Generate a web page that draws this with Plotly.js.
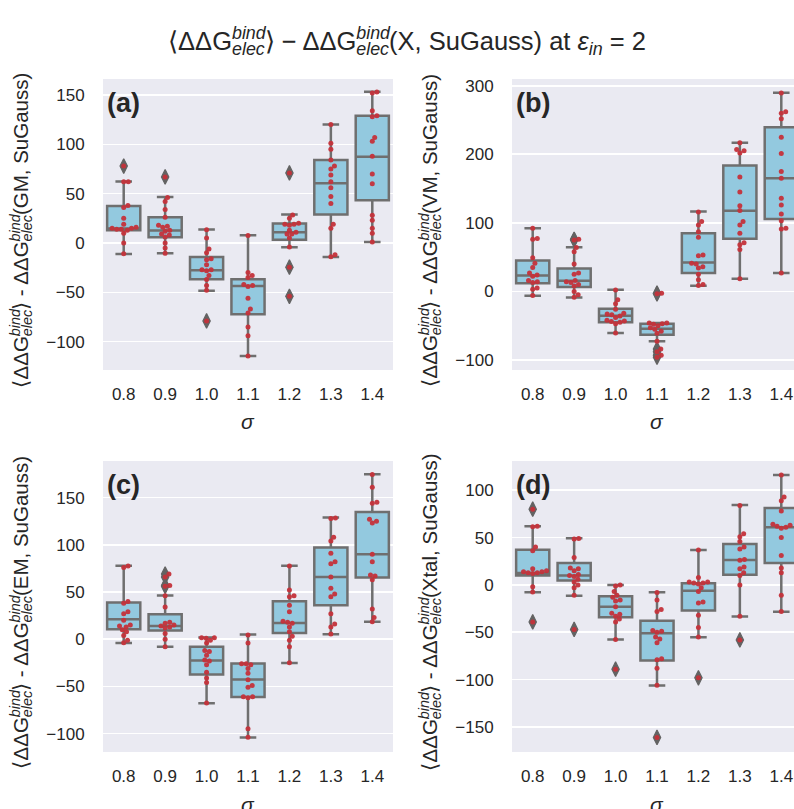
<!DOCTYPE html>
<html><head><meta charset="utf-8">
<script src="https://cdn.plot.ly/plotly-3.0.1.min.js"></script>
<style>html,body{margin:0;padding:0;overflow:hidden;background:#fff}#chart{width:814px;height:809px}</style>
</head><body><div id="chart"></div>
<script>
const sigmaLabels = ['0.8', '0.9', '1.0', '1.1', '1.2', '1.3', '1.4'];

// (a) GM
const gmPoints = [
  [78, 62, 62, 38, 36, 25, 19, 16, 15, 15, 14, 14, 13, 10, 0, -11],
  [67, 46, 42, 34, 26, 18, 17, 16, 13, 12, 9, 8, 6, 0, -5, -10.5],
  [13.5, 5, -6, -10, -16, -17, -22, -27, -27, -28, -33, -37, -43, -48, -79],
  [7.5, -30, -33, -35, -42, -43, -44, -56, -67, -71, -85, -94, -114.5],
  [71, 28.5, 25, 20, 19, 19, 18, 13, 11, 9, 9, 5, -4, -24.5, -54],
  [120, 101, 95, 84, 78, 75, 69, 62, 56, 47, 40, 19, 15, -12, -14],
  [153, 152, 134, 129, 128, 107, 103, 88, 70, 60, 28, 23, 15, 10, 1]
];
const gmQ1 = [12.9, 5.8, -36.7, -72.1, 3.4, 28.9, 43.2];
const gmMedian = [14.8, 12.6, -27.5, -43.5, 10.9, 60.5, 87.4];
const gmQ3 = [37.4, 26.2, -14.3, -36.7, 19.7, 84, 129];
const gmLowerWhisker = [-11.2, -10.5, -48.3, -114.6, -4.4, -14.3, 1];
const gmUpperWhisker = [62.2, 46.6, 13.6, 7.8, 28.9, 120, 153.4];

// (b) VM
const vmPoints = [
  [92, 77, 76, 49, 41, 35, 27, 24, 22, 16, 14, 13, 5, 3, -6],
  [76, 75, 64, 58, 40, 27, 25, 16, 14, 13, 10, 8, 0, -5, -8.5],
  [2, -12, -18, -26, -32, -33, -34, -36, -38, -42, -43, -44, -45, -47, -60.5],
  [-2.5, -3.5, -46, -46, -47, -48, -50, -53, -55, -58, -61, -72.5, -84, -88, -93, -96],
  [116, 102, 97, 87, 79, 53, 52, 41, 40, 36, 34, 25, 17, 10, 8.5],
  [217, 207, 205, 202, 167, 145, 125, 118, 102, 97, 85, 71, 68, 61, 18.5],
  [289.5, 262, 260, 252, 225, 201, 175, 165, 136, 126, 113, 103, 92, 91, 27]
];
const vmQ1 = [12.1, 6.3, -45.1, -63.1, 26.7, 76.7, 105.8];
const vmMedian = [23.3, 15.5, -35.4, -54.4, 42.2, 117.5, 165];
const vmQ3 = [45.1, 33.5, -25.2, -47, 85, 183.5, 239.3];
const vmLowerWhisker = [-6.3, -8.7, -60.7, -72.8, 8.3, 18.4, 26.7];
const vmUpperWhisker = [92.2, 64.6, 2.4, -46, 116.5, 217, 289.8];

// (c) EM
const emPoints = [
  [77.5, 76, 40, 38, 29, 27, 20, 15, 14, 13, 10, 8, 4, -1, -3.8],
  [69, 66, 57, 56, 46, 34, 18, 17, 15, 14, 13, 12, 6, 0, -8],
  [1.5, 1.5, 1, -1, -4, -12, -13, -17, -22, -23, -27, -35, -41, -46, -67.5],
  [4.5, -4, -26, -26, -27, -31, -36, -43, -49, -51, -61, -61, -62, -95, -104],
  [77.5, 52, 46, 45, 36, 29, 19, 18, 17, 13, 8, 3, -1, -8, -25],
  [128.5, 128, 108, 104, 91, 82, 80, 66, 54, 48, 45, 27, 16, 13, 5.5],
  [174.5, 161, 145, 144, 127, 125, 123, 90, 82, 68, 67, 63, 32, 23, 18.5]
];
const emQ1 = [10.6, 9.2, -37.4, -61.1, 6.7, 36, 65.3];
const emMedian = [21.2, 14.1, -22.6, -42.7, 17.3, 66, 90];
const emQ3 = [38.8, 26.5, -8.1, -25.8, 40.3, 97.1, 134.9];
const emLowerWhisker = [-3.9, -8.1, -67.8, -104.2, -25.1, 5.3, 18.4];
const emUpperWhisker = [77.7, 46.3, 1.8, 4.9, 77.7, 128.9, 174.8];

// (d) Xtal
const xtalPoints = [
  [80, 62, 61.5, 40, 36, 17, 15, 14, 14, 13, 13, 12, -2, -7.5, -39],
  [49, 48.5, 29, 18, 17, 15, 11, 10, 9, 6, 3, 0, -3, -11, -47],
  [0, -1, -7, -11, -13, -16, -17, -23, -30, -31, -33, -36, -39, -57.5, -89],
  [-8, -16, -26, -28, -48, -49, -50, -55, -57, -61, -78, -79, -88, -106, -161],
  [37, 8, 3, 3, 2, 2, 1, -3, -7, -18, -19, -32, -45, -55, -98],
  [84, 54, 51, 46, 40, 38, 27, 26, 19, 17, 13, 10, 0, -33, -58],
  [116, 93, 89, 78, 64, 63, 62, 61, 60, 50, 31, 18, 13, -11, -28]
];
const xtalQ1 = [9.9, 4.6, -34.2, -79.9, -27.1, 10.9, 23.2];
const xtalMedian = [12.7, 9.9, -22.9, -51, -6, 26.4, 61];
const xtalQ3 = [37.3, 23.2, -12, -37.7, 1.8, 43.3, 81.3];
const xtalLowerWhisker = [-7.7, -11.3, -57.7, -106.3, -55.3, -33.4, -28.2];
const xtalUpperWhisker = [62, 49.3, 0, -7.7, 37, 84.5, 116.2];

const W = 814, H = 809;
const boxFill = '#93C9DF', boxLine = '#6f6f6f', dotColor = '#c4313a', fontCol = '#262626';
const FONT = 'Liberation Sans, Arial, Helvetica, sans-serif';

// stacked super/subscript: superscript, then pull the pen back by its width, then subscript
const G_BIND_ELEC = 'ΔΔG<sup><i>bind</i><span style="letter-spacing:-2.168em">\u00A0</span></sup><sub><i>elec</i></sub>';

const panels = [
  {pts: gmPoints, q1: gmQ1, med: gmMedian, q3: gmQ3, lo: gmLowerWhisker, hi: gmUpperWhisker, range: [-128.7, 166.2], dtick: 50, name: 'GM', tag: '(a)'},
  {pts: vmPoints, q1: vmQ1, med: vmMedian, q3: vmQ3, lo: vmLowerWhisker, hi: vmUpperWhisker, range: [-114.6, 309.8], dtick: 100, name: 'VM', tag: '(b)'},
  {pts: emPoints, q1: emQ1, med: emMedian, q3: emQ3, lo: emLowerWhisker, hi: emUpperWhisker, range: [-119.5, 188.8], dtick: 50, name: 'EM', tag: '(c)'},
  {pts: xtalPoints, q1: xtalQ1, med: xtalMedian, q3: xtalQ3, lo: xtalLowerWhisker, hi: xtalUpperWhisker, range: [-176.4, 130.9], dtick: 50, name: 'Xtal', tag: '(d)'}
];

// pixel geometry of each subplot (left, right, top, bottom)
const boxesPx = [[103, 393, 79, 370], [512, 802, 79, 370], [103, 393, 461, 752], [512, 802, 461, 752]];

function swarmOffsets(vals, pxPerY, pxPerX, diam) {
  const idx = vals.map((_, i) => i).sort((a, b) => vals[a] - vals[b]);
  const placed = [];
  const off = new Array(vals.length).fill(0);
  for (const i of idx) {
    const py = vals[i] * pxPerY;
    let chosen = 0;
    for (let k = 0; k < 4000; k++) {
      const c = k === 0 ? 0 : (k % 2 ? 1 : -1) * Math.ceil(k / 2) * 0.2;
      let ok = true;
      for (const p of placed) {
        const dx = p.x - c, dy = p.y - py;
        if (dx * dx + dy * dy < diam * diam - 1e-6) { ok = false; break; }
      }
      if (ok) { chosen = c; break; }
    }
    placed.push({x: chosen, y: py});
    off[i] = chosen / pxPerX;
  }
  return off;
}

const traces = [];
const layout = {
  width: W, height: H,
  margin: {l: 0, r: 0, t: 0, b: 0},
  paper_bgcolor: '#ffffff', plot_bgcolor: '#EAEAF2',
  showlegend: false,
  font: {family: FONT, color: fontCol, size: 17},
  title: {
    text: '⟨' + G_BIND_ELEC + '⟩ − ' + G_BIND_ELEC + '(X, SuGauss) at <i>ε</i><sub><i>in</i></sub> = 2',
    x: 0.5, xanchor: 'center', y: 1 - 41 / H, yanchor: 'middle', yref: 'container',
    font: {size: 25.5, family: FONT, color: fontCol}
  },
  annotations: []
};

const cats = sigmaLabels.map((_, i) => i);
panels.forEach((p, k) => {
  const n = k + 1;
  const xa = 'x' + (n === 1 ? '' : n), ya = 'y' + (n === 1 ? '' : n);
  const [L, R, T, B] = boxesPx[k];
  const pxPerX = (R - L) / 7;
  const pxPerY = (B - T) / (p.range[1] - p.range[0]);

  traces.push({
    type: 'box', xaxis: xa, yaxis: ya,
    x: cats, q1: p.q1, median: p.med, q3: p.q3, lowerfence: p.lo, upperfence: p.hi,
    boxpoints: false, width: 0.8, whiskerwidth: 0.5,
    fillcolor: boxFill, line: {color: boxLine, width: 2.5}, hoverinfo: 'skip'
  });

  const ox = [], oy = [];
  p.pts.forEach((arr, i) => arr.forEach(v => {
    if (v < p.lo[i] || v > p.hi[i]) { ox.push(i); oy.push(v); }
  }));
  traces.push({
    type: 'scatter', mode: 'markers', xaxis: xa, yaxis: ya, x: ox, y: oy,
    marker: {symbol: 'diamond-tall', size: 10.5, color: '#636363', line: {width: 1.2, color: '#636363'}},
    hoverinfo: 'skip'
  });

  const sx = [], sy = [];
  p.pts.forEach((arr, i) => {
    const off = swarmOffsets(arr, pxPerY, pxPerX, 4.6);
    arr.forEach((v, j) => { sx.push(i + off[j]); sy.push(v); });
  });
  traces.push({
    type: 'scatter', mode: 'markers', xaxis: xa, yaxis: ya, x: sx, y: sy,
    marker: {size: 5, color: dotColor, opacity: 0.95},
    hoverinfo: 'skip'
  });

  layout['xaxis' + (n === 1 ? '' : n)] = {
    domain: [L / W, R / W], anchor: ya, range: [-0.5, 6.5],
    tickmode: 'array', tickvals: cats, ticktext: sigmaLabels,
    showgrid: false, zeroline: false, showline: false,
    ticks: 'outside', ticklen: 9, tickcolor: 'rgba(0,0,0,0)',
    tickfont: {size: 17, color: fontCol}
  };
  layout['yaxis' + (n === 1 ? '' : n)] = {
    domain: [1 - B / H, 1 - T / H], anchor: xa, range: p.range, dtick: p.dtick,
    showgrid: true, gridcolor: '#ffffff', gridwidth: 1.6, zeroline: false, showline: false,
    ticks: 'outside', ticklen: 14, tickcolor: 'rgba(0,0,0,0)',
    tickfont: {size: 17, color: fontCol}
  };

  // panel tag
  layout.annotations.push({
    xref: xa + ' domain', yref: ya + ' domain', x: 0.008, y: 0.975,
    xanchor: 'left', yanchor: 'top', showarrow: false,
    text: '<b>' + p.tag + '</b>', font: {size: 27, color: fontCol, family: FONT}
  });
  // y-axis title
  layout.annotations.push({
    xref: 'paper', yref: 'paper', x: (L - 82) / W, y: 1 - ((T + B) / 2 + 6) / H,
    xanchor: 'center', yanchor: 'middle', textangle: -90, showarrow: false,
    text: '⟨' + G_BIND_ELEC + '⟩ - ' + G_BIND_ELEC + '(' + p.name + ', SuGauss)',
    font: {size: 20.5, color: fontCol, family: FONT}
  });
  // x-axis title (sigma)
  layout.annotations.push({
    xref: 'paper', yref: 'paper', x: (L + R) / 2 / W, y: 1 - (B + 52) / H,
    xanchor: 'center', yanchor: 'middle', showarrow: false,
    text: '<i>σ</i>', font: {size: 21, color: fontCol, family: FONT}
  });
});

Plotly.newPlot('chart', traces, layout, {displayModeBar: false, staticPlot: true});
</script>
</body></html>
